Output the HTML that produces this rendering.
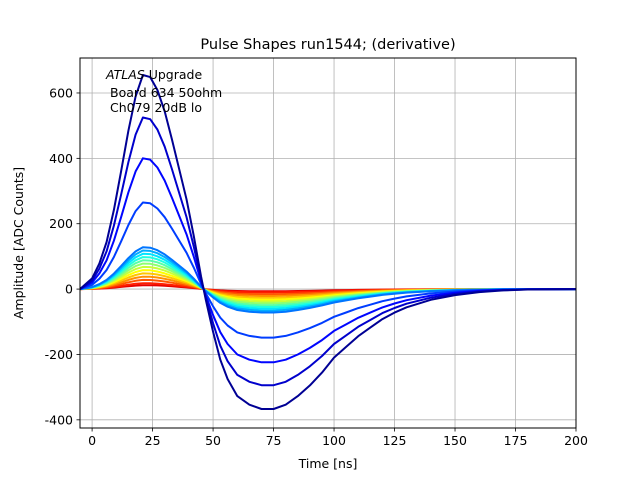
<!DOCTYPE html>
<html><head><meta charset="utf-8"><style>
body{margin:0;background:#fff}
text{font-family:"DejaVu Sans","Liberation Sans",sans-serif;fill:#000}
</style></head><body>
<svg id="chart" width="640" height="480" xmlns="http://www.w3.org/2000/svg">
<rect width="640" height="480" fill="#fff"/>
<g id="grid"></g>
<g id="series" clip-path="url(#clip)"></g>
<defs><clipPath id="clip"><rect x="80" y="58" width="496" height="370"/></clipPath></defs>
<rect x="80" y="58" width="496" height="370" fill="none" stroke="#000" stroke-width="1"/>
<g id="ticks"></g>
<text x="328" y="49" font-size="14.5" text-anchor="middle">Pulse Shapes run1544; (derivative)</text>
<text x="328" y="468" font-size="12.5" text-anchor="middle">Time [ns]</text>
<text transform="translate(23,243) rotate(-90)" font-size="12.5" text-anchor="middle">Amplitude [ADC Counts]</text>
<g font-size="12.5">
<text x="106" y="79"><tspan font-style="italic">ATLAS</tspan> Upgrade</text>
<text x="110" y="97">Board 634 50ohm</text>
<text x="110" y="112">Ch079 20dB lo</text>
</g>
</svg>
<script>
const xTicks=[0,25,50,75,100,125,150,175,200];
const yTicks=[-400,-200,0,200,400,600];
const shapeT=[-5,0,3,6,9,12,15,18,21,24,27,30,33,36,39,42,45,47,50,53,56,60,65,70,75,80,85,90,95,100,105,110,115,120,125,130,140,150,160,170,180,200];
const shapeV=[0,0.05,0.12,0.22,0.37,0.55,0.74,0.9,1.0,0.99,0.93,0.83,0.7,0.56,0.42,0.25,0.06,-0.05,-0.2,-0.33,-0.42,-0.5,-0.54,-0.56,-0.56,-0.54,-0.5,-0.45,-0.39,-0.32,-0.27,-0.22,-0.18,-0.14,-0.11,-0.085,-0.05,-0.028,-0.014,-0.006,-0.002,0];
const amplitudes=[655,525,400,265,128,118,108,98,88,78,68,58,48,38,28,18,12];
const X0=80,X1=576,Y0=428,Y1=58,xmin=-5,xmax=200,ymin=-425,ymax=707;
function sx(v){return X0+(v-xmin)/(xmax-xmin)*(X1-X0);}
function sy(v){return Y0-(v-ymin)/(ymax-ymin)*(Y0-Y1);}
const NS="http://www.w3.org/2000/svg";
function mk(tag,attrs,parent){const e=document.createElementNS(NS,tag);for(const k in attrs)e.setAttribute(k,attrs[k]);parent.appendChild(e);return e;}
const grid=document.getElementById('grid'),ticks=document.getElementById('ticks'),ser=document.getElementById('series');
xTicks.forEach(t=>{const x=sx(t);
 const g=mk('line',{x1:x,x2:x,y1:Y1,y2:Y0,stroke:'#b0b0b0','stroke-width':0.8},grid);
 
 
 mk('line',{x1:x,x2:x,y1:Y0,y2:Y0+3.5,stroke:'#000','stroke-width':0.8},ticks);
 const l=mk('text',{x:x,y:Y0+17,'font-size':12.5,'text-anchor':'middle'},ticks);l.textContent=t;
 
 
});
yTicks.forEach(t=>{const y=sy(t);
 const g=mk('line',{x1:X0,x2:X1,y1:y,y2:y,stroke:'#b0b0b0','stroke-width':0.8},grid);
 
 
 mk('line',{x1:X0-3.5,x2:X0,y1:y,y2:y,stroke:'#000','stroke-width':0.8},ticks);
 const l=mk('text',{x:X0-7,y:y+4.5,'font-size':12.5,'text-anchor':'end'},ticks);l.textContent=t;
 
 
});
function jet(v){const c=x=>Math.round(255*Math.max(0,Math.min(1,x)));
 return `rgb(${c(1.5-Math.abs(4*v-3))},${c(1.5-Math.abs(4*v-2))},${c(1.5-Math.abs(4*v-1))})`;}
const N=amplitudes.length;
for(let i=N-1;i>=0;i--){
 const a=amplitudes[i];
 const d=shapeT.map((t,j)=>(j?'L':'M')+sx(t).toFixed(1)+','+sy(a*shapeV[j]).toFixed(1)).join('');
 const p=mk('path',{d:d,fill:'none',stroke:jet(0.02+i/(N-1)*0.88),'stroke-width':2,'stroke-linejoin':'round'},ser);
 
 
}
</script>
</body></html>
